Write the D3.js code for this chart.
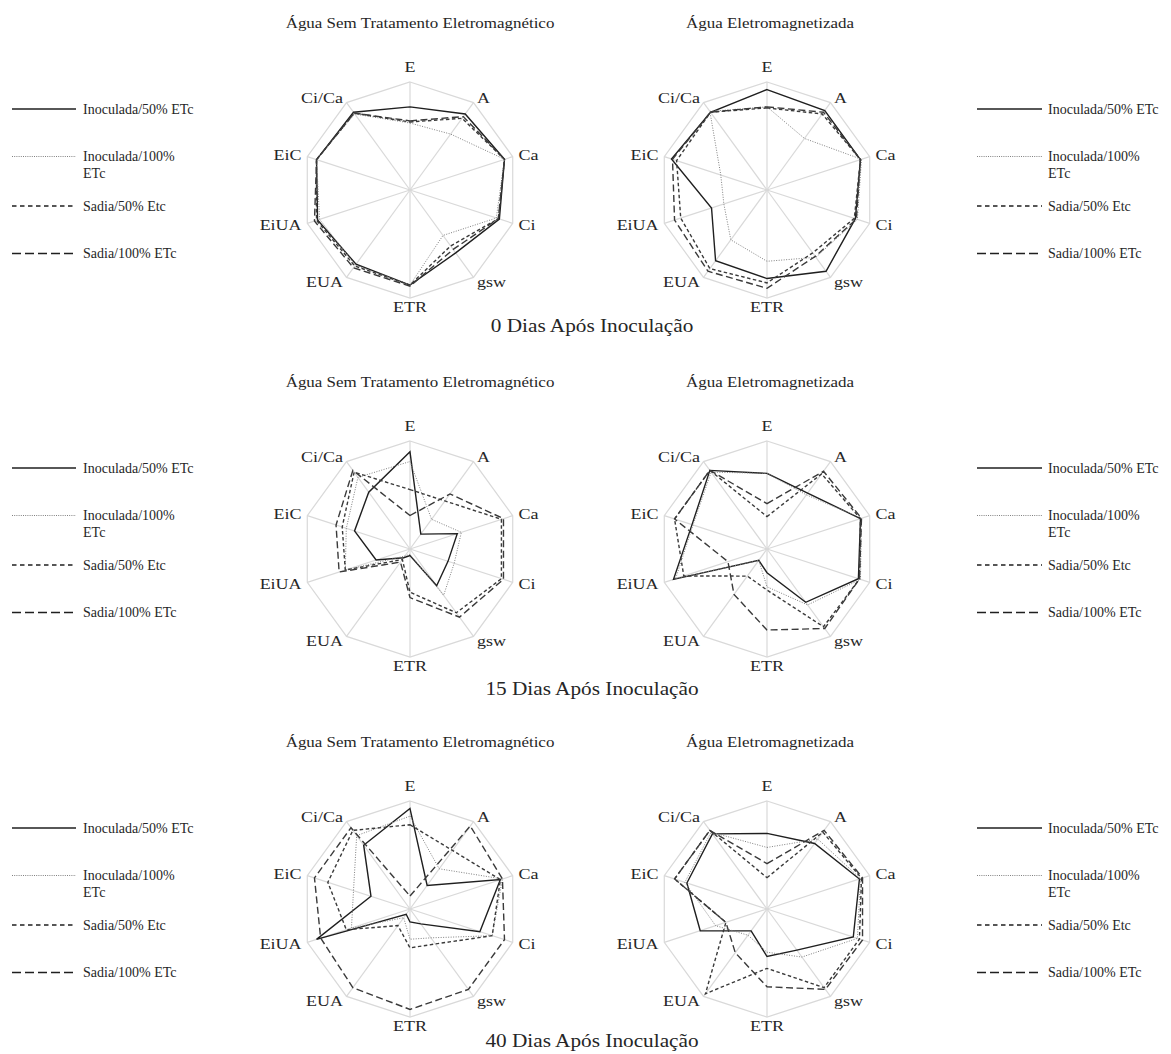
<!DOCTYPE html>
<meta charset="utf-8">
<html>
  <head>
    <title>Radar - Dias Após Inoculação</title>
    <style>
      body { margin: 0; background: #fff; }
      text { font-family: "Liberation Serif", "Times New Roman", serif; fill: #262626; }
    </style>
  </head>
  <body>
    <div id="chart"></div>
  </body>

<script src="https://d3js.org/d3.v7.min.js"></script>
<script>
// axes, clockwise from the top
var axes = ["E", "A", "Ca", "Ci", "gsw", "ETR", "EUA", "EiUA", "EiC", "Ci/Ca"]
var series = ["Inoculada/50% ETc", "Inoculada/100% ETc", "Sadia/50% Etc", "Sadia/100% ETc"]
var legendLines = [["Inoculada/50% ETc"], ["Inoculada/100%", "ETc"], ["Sadia/50% Etc"], ["Sadia/100% ETc"]]
var waters = ["Água Sem Tratamento Eletromagnético", "Água Eletromagnetizada"]
var days = ["0 Dias Após Inoculação", "15 Dias Após Inoculação", "40 Dias Após Inoculação"]

// one row per series (same order as `series`), values on the radial scale 0..1
var dia0Sem = [
  [0.77, 0.87, 0.92, 0.87, 0.72, 0.88, 0.85, 0.90, 0.91, 0.89],
  [0.62, 0.64, 0.92, 0.84, 0.52, 0.88, 0.86, 0.88, 0.91, 0.87],
  [0.63, 0.82, 0.92, 0.86, 0.64, 0.88, 0.87, 0.91, 0.91, 0.88],
  [0.64, 0.84, 0.92, 0.86, 0.68, 0.89, 0.89, 0.93, 0.91, 0.88]
]
var dia0Ele = [
  [0.93, 0.91, 0.91, 0.86, 0.93, 0.82, 0.81, 0.54, 0.93, 0.89],
  [0.77, 0.59, 0.92, 0.88, 0.77, 0.66, 0.57, 0.42, 0.45, 0.90],
  [0.76, 0.87, 0.91, 0.85, 0.72, 0.86, 0.90, 0.84, 0.88, 0.89],
  [0.77, 0.89, 0.91, 0.87, 0.76, 0.91, 0.93, 0.90, 0.92, 0.89]
]
var dia15Sem = [
  [0.90, 0.17, 0.46, 0.37, 0.42, 0.06, 0.10, 0.33, 0.54, 0.65],
  [0.81, 0.34, 0.50, 0.43, 0.53, 0.05, 0.08, 0.63, 0.62, 0.82],
  [0.55, 0.55, 0.89, 0.89, 0.73, 0.40, 0.12, 0.63, 0.66, 0.88],
  [0.31, 0.63, 0.91, 0.91, 0.78, 0.45, 0.15, 0.69, 0.72, 0.90]
]
var dia15Ele = [
  [0.70, 0.64, 0.91, 0.89, 0.61, 0.22, 0.13, 0.91, 0.73, 0.90],
  [0.70, 0.62, 0.92, 0.91, 0.64, 0.35, 0.13, 0.89, 0.72, 0.88],
  [0.30, 0.86, 0.91, 0.90, 0.89, 0.38, 0.31, 0.81, 0.90, 0.90],
  [0.42, 0.89, 0.92, 0.90, 0.91, 0.75, 0.52, 0.38, 0.90, 0.90]
]
var dia40Sem = [
  [0.93, 0.27, 0.88, 0.68, 0.17, 0.12, 0.06, 0.91, 0.38, 0.73],
  [0.86, 0.46, 0.90, 0.80, 0.33, 0.28, 0.10, 0.57, 0.55, 0.84],
  [0.78, 0.67, 0.88, 0.80, 0.40, 0.36, 0.19, 0.62, 0.80, 0.90],
  [0.12, 0.95, 0.90, 0.92, 0.92, 0.93, 0.90, 0.87, 0.93, 0.93]
]
var dia40Ele = [
  [0.70, 0.75, 0.90, 0.84, 0.47, 0.44, 0.25, 0.65, 0.78, 0.86],
  [0.57, 0.80, 0.91, 0.88, 0.55, 0.40, 0.30, 0.50, 0.80, 0.88],
  [0.29, 0.88, 0.92, 0.90, 0.90, 0.55, 0.97, 0.40, 0.90, 0.90],
  [0.42, 0.90, 0.93, 0.93, 0.92, 0.72, 0.50, 0.40, 0.90, 0.90]
]

var panels = [[dia0Sem, dia0Ele], [dia15Sem, dia15Ele], [dia40Sem, dia40Ele]]

// line look for each series
var styles = [
  {stroke: "#1f1f1f", width: 1.4, dash: null},
  {stroke: "#808080", width: 1, dash: "1,1.5"},
  {stroke: "#3a3a3a", width: 1.4, dash: "3.5,2.5"},
  {stroke: "#3a3a3a", width: 1.4, dash: "7,3.5"}
]

var width = 1171, height = 1054
var R = 108
var rowY = [190, 549, 909]
var colX = [410, 767]
var titleX = [420, 770]
var dayY = [325, 688, 1040]

var svg = d3.select("#chart")
  .append("svg")
    .attr("width", width)
    .attr("height", height)

var r = d3.scaleLinear().domain([0, 1]).range([0, R])
var angle = d3.scalePoint()
  .domain(axes)
  .range([0, 2 * Math.PI * (axes.length - 1) / axes.length])

var radarLine = d3.lineRadial()
  .angle(function(d, i) { return angle(axes[i]); })
  .radius(function(d) { return r(d); })
  .curve(d3.curveLinearClosed)

function pt(a, rad) {
  return [Math.sin(a) * rad, -Math.cos(a) * rad]
}

function drawLegend(x0, x1, tx, cy) {
  var offs = [-81, -33.5, 16, 63.5]
  series.forEach(function(s, i) {
    var y = cy + offs[i]
    svg.append("line")
      .attr("x1", x0).attr("x2", x1)
      .attr("y1", y).attr("y2", y)
      .attr("stroke", i == 1 ? "#808080" : "#1f1f1f")
      .attr("stroke-width", i == 1 ? 1 : 1.3)
      .attr("stroke-dasharray", i == 0 ? null : (i == 1 ? "1,1.2" : (i == 2 ? "4.5,3.5" : "9,4")))
    var t = svg.append("text")
      .attr("x", tx).attr("y", y)
      .style("font-size", "14px")
    legendLines[i].forEach(function(line, j) {
      t.append("tspan").attr("x", tx).attr("dy", j == 0 ? "0.35em" : "1.2em").text(line)
    })
  })
}

panels.forEach(function(row, ri) {
  var cy = rowY[ri]

  row.forEach(function(data, ci) {
    var cx = colX[ci]
    var g = svg.append("g").attr("transform", "translate(" + cx + "," + cy + ")")

    // grid: spokes and outer decagon
    axes.forEach(function(a) {
      var p = pt(angle(a), r(1))
      g.append("line")
        .attr("x1", 0).attr("y1", 0)
        .attr("x2", p[0]).attr("y2", p[1])
        .attr("stroke", "#d9d9d9").attr("stroke-width", 1.2)
    })
    g.append("path")
      .attr("d", radarLine(axes.map(function() { return 1; })))
      .attr("fill", "none").attr("stroke", "#d9d9d9").attr("stroke-width", 1.2)

    // series
    data.forEach(function(vals, si) {
      var st = styles[si]
      g.append("path")
        .attr("d", radarLine(vals))
        .attr("fill", "none")
        .attr("stroke", st.stroke)
        .attr("stroke-width", st.width)
        .attr("stroke-dasharray", st.dash)
        .attr("stroke-linejoin", "miter")
    })

    // axis labels
    axes.forEach(function(a) {
      var ang = angle(a)
      var s = Math.sin(ang), c = Math.cos(ang)
      var p = pt(ang, r(1) + 6)
      var extra = c > 0.9 ? -9 : (c < -0.9 ? 3 : 0)
      var anchor = Math.abs(s) < 0.1 ? "middle" : (s > 0 ? "start" : "end")
      g.append("text")
        .attr("transform", "translate(" + p[0] + "," + (p[1] + extra) + ") scale(1.2,1)")
        .attr("text-anchor", anchor)
        .attr("dy", "0.35em")
        .style("font-size", "15px")
        .text(a)
    })

    // panel title
    svg.append("text")
      .attr("transform", "translate(" + titleX[ci] + "," + (cy - 167) + ") scale(1.13,1)")
      .attr("text-anchor", "middle")
      .attr("dy", "0.35em")
      .style("font-size", "15px")
      .text(waters[ci])
  })

  // day label
  svg.append("text")
    .attr("transform", "translate(592," + dayY[ri] + ") scale(1.12,1)")
    .attr("text-anchor", "middle")
    .attr("dy", "0.35em")
    .style("font-size", "19px")
    .text(days[ri])

  drawLegend(12, 76, 83, cy)
  drawLegend(977, 1042, 1048, cy)
})
</script>
</html>
